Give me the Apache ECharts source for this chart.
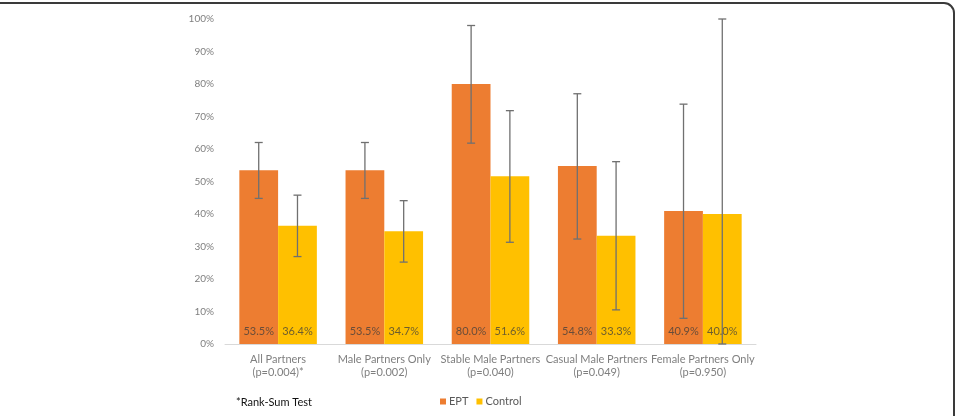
<!DOCTYPE html>
<html>
<head>
<meta charset="utf-8">
<script src="https://cdn.jsdelivr.net/npm/echarts@6/dist/echarts.min.js"></script>
<style>
  html, body { margin: 0; padding: 0; background: #fff; }
  #chart { width: 959px; height: 416px; }
</style>
</head>
<body>
<div id="chart"></div>
<script>
var categories = [
  'All Partners\n(p=0.004)*',
  'Male Partners Only\n(p=0.002)',
  'Stable Male Partners\n(p=0.040)',
  'Casual Male Partners\n(p=0.049)',
  'Female Partners Only\n(p=0.950)'
];
var eptValues = [53.5, 53.5, 80.0, 54.8, 40.9];
var controlValues = [36.4, 34.7, 51.6, 33.3, 40.0];
var eptLow = [44.8, 44.8, 61.8, 32.3, 7.9];
var eptHigh = [62.0, 62.0, 98.0, 77.0, 73.8];
var controlLow = [26.9, 25.2, 31.3, 10.5, 0];
var controlHigh = [45.8, 44.1, 71.8, 56.1, 100];

var chartDom = document.getElementById('chart');
var myChart = echarts.init(chartDom);

var gapRatio = 0.27;

function errorBarSeries(name, low, high, side) {
  return {
    name: name + ' error',
    type: 'custom',
    z: 10,
    silent: true,
    data: low.map(function (l, i) { return [i, l, high[i]]; }),
    encode: { x: 0, y: [1, 2] },
    renderItem: function (params, api) {
      var idx = api.value(0);
      var catW = api.size([1, 0])[0];
      var barW = catW * (1 - gapRatio) / 2;
      var top = api.coord([idx, api.value(2)]);
      var bot = api.coord([idx, api.value(1)]);
      var x = top[0] + side * barW / 2;
      var cap = 4;
      var style = { stroke: '#707070', lineWidth: 1.3 };
      return {
        type: 'group',
        children: [
          { type: 'line', shape: { x1: x, y1: top[1], x2: x, y2: bot[1] }, style: style },
          { type: 'line', shape: { x1: x - cap, y1: top[1], x2: x + cap, y2: top[1] }, style: style },
          { type: 'line', shape: { x1: x - cap, y1: bot[1], x2: x + cap, y2: bot[1] }, style: style }
        ]
      };
    }
  };
}

var valueLabel = {
  show: true,
  position: 'insideBottom',
  distance: 7,
  fontFamily: 'Lato',
  fontSize: 11,
  color: 'rgba(60,60,60,0.75)',
  formatter: function (p) { return p.value.toFixed(1) + '%'; }
};

var option = {
  animation: false,
  textStyle: { fontFamily: 'Lato' },
  graphic: [
    {
      type: 'rect',
      silent: true,
      shape: { x: -20, y: 3, width: 974, height: 460, r: 10 },
      style: { fill: 'none', stroke: '#3a3a3a', lineWidth: 2 }
    },
    {
      type: 'text',
      left: 236,
      top: 397,
      style: { text: '*Rank-Sum Test', fontFamily: 'Lato', fontSize: 11, fill: '#111' }
    }
  ],
  grid: {
    left: 225,
    right: 203,
    top: 19,
    bottom: 72
  },
  legend: {
    left: 435,
    top: 391,
    icon: 'rect',
    itemWidth: 6,
    itemHeight: 6,
    itemGap: 8,
    data: ['EPT', 'Control'],
    textStyle: { fontSize: 11, color: '#595959', fontFamily: 'Lato', padding: [0, 0, 0, -2] }
  },
  xAxis: {
    type: 'category',
    data: categories,
    axisLine: { lineStyle: { color: '#d9d9d9', width: 1 } },
    axisTick: { show: false },
    axisLabel: {
      color: '#7f7f7f',
      fontSize: 11,
      lineHeight: 13,
      margin: 9,
      interval: 0
    }
  },
  yAxis: {
    type: 'value',
    min: 0,
    max: 100,
    interval: 10,
    axisLine: { show: false },
    axisTick: { show: false },
    splitLine: { show: false },
    axisLabel: {
      color: '#7f7f7f',
      fontSize: 10,
      margin: 11,
      formatter: '{value}%'
    }
  },
  series: [
    {
      name: 'EPT',
      type: 'bar',
      data: eptValues,
      barGap: '0%',
      barCategoryGap: '27%',
      itemStyle: { color: '#ED7D31' },
      label: valueLabel
    },
    {
      name: 'Control',
      type: 'bar',
      data: controlValues,
      barGap: '0%',
      barCategoryGap: '27%',
      itemStyle: { color: '#FFC000' },
      label: valueLabel
    },
    errorBarSeries('EPT', eptLow, eptHigh, -1),
    errorBarSeries('Control', controlLow, controlHigh, 1)
  ]
};

myChart.setOption(option);

window.addEventListener('resize', function () {
  myChart.resize();
});
</script>
</body>
</html>
